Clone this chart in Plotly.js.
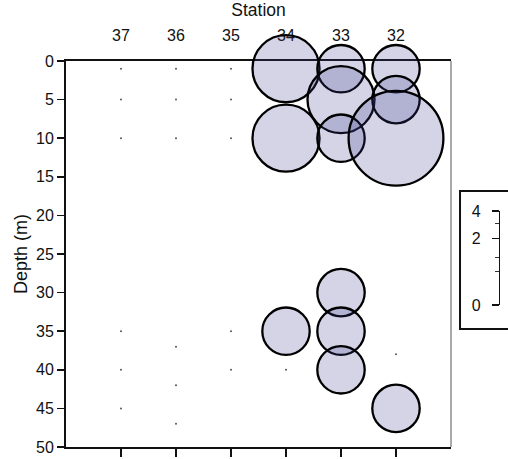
<!DOCTYPE html>
<html>
<head>
<meta charset="utf-8">
<script src="https://cdn.plot.ly/plotly-3.0.1.min.js"></script>
<style>html,body{margin:0;padding:0;background:#fff;}#chart{width:508px;height:459px;}</style>
</head>
<body>
<div id="chart"></div>
<script>
// ---- data ----
const stations = [37, 36, 35, 34, 33, 32];
const stationLabels = ['37', '36', '35', '34', '33', '32'];
const depthTicks = [0, 5, 10, 15, 20, 25, 30, 35, 40, 45, 50];

const bubbleStation = [34, 34, 34, 33, 33, 33, 33, 33, 33, 32, 32, 32, 32];
const bubbleDepth   = [1, 10, 35, 1, 5, 10, 30, 35, 40, 1, 5, 10, 45];
const bubbleValue   = [2, 2, 1, 1, 2, 1, 1, 1, 1, 1, 1, 4, 1];

const zeroStation = [37, 37, 37, 37, 37, 37, 36, 36, 36, 36, 36, 36, 35, 35, 35, 35, 35, 34, 32];
const zeroDepth   = [1, 5, 10, 35, 40, 45, 1, 5, 10, 37, 42, 47, 1, 5, 10, 35, 40, 40, 38];

const scaleMajor = [0, 2, 4];
const scaleMinor = [0.5, 1, 3];

// ---- chart ----
const FONT = 'Liberation Sans, Arial, Helvetica, sans-serif';
const r1 = 23.7;
const sizeref = 1 / (2 * r1 * r1);

const traces = [
  {
    x: zeroStation, y: zeroDepth, xaxis: 'x', yaxis: 'y',
    mode: 'markers', type: 'scatter', hoverinfo: 'skip', showlegend: false,
    marker: {size: 2, color: '#555', opacity: 1}
  },
  {
    x: bubbleStation, y: bubbleDepth, xaxis: 'x2', yaxis: 'y',
    mode: 'markers', type: 'scatter', showlegend: false, cliponaxis: false,
    marker: {
      size: bubbleValue, sizemode: 'area', sizeref: sizeref, opacity: 1,
      color: 'rgba(60,60,140,0.22)',
      line: {color: '#000', width: 2.3}
    }
  },
  {
    x: scaleMajor.map(() => 0), y: scaleMajor.map(Math.sqrt), xaxis: 'x3', yaxis: 'y3',
    mode: 'markers', type: 'scatter', hoverinfo: 'skip', showlegend: false,
    marker: {opacity: 0}
  }
];

const xRange = [38, 31];
const layout = {
  width: 508, height: 459,
  margin: {l: 66, r: 2, t: 61, b: 12, pad: 0},
  paper_bgcolor: '#fff', plot_bgcolor: 'rgba(0,0,0,0)',
  font: {family: FONT, size: 16, color: '#111'},
  showlegend: false,
  xaxis: {
    domain: [0, 0.875], range: xRange, anchor: 'y', side: 'bottom',
    tickmode: 'array', tickvals: stations, showticklabels: false,
    ticks: 'outside', ticklen: 8, tickwidth: 1.5, tickcolor: '#111',
    showline: true, linewidth: 2, linecolor: '#111',
    showgrid: false, zeroline: false, layer: 'below traces', fixedrange: true
  },
  xaxis2: {
    overlaying: 'x', range: xRange, anchor: 'y', side: 'top',
    tickmode: 'array', tickvals: stations, ticktext: stationLabels,
    ticks: '', ticklabelstandoff: 12,
    tickfont: {size: 16},
    showline: true, linewidth: 2, linecolor: '#111',
    showgrid: false, zeroline: false, layer: 'below traces',
    title: {text: 'Station', font: {size: 17.5}, standoff: 5}
  },
  yaxis: {
    domain: [0, 1], range: [50, 0], anchor: 'x',
    tickmode: 'array', tickvals: depthTicks,
    ticks: 'outside', ticklen: 7, tickwidth: 1.5, tickcolor: '#111',
    tickfont: {size: 16},
    showline: true, linewidth: 2, linecolor: '#111',
    showgrid: false, zeroline: false, layer: 'below traces',
    title: {text: 'Depth (m)', font: {size: 18}, standoff: 4}
  },
  xaxis3: {domain: [0.9, 0.99], anchor: 'y3', visible: false, range: [-1, 1]},
  yaxis3: {
    domain: [0.3679, 0.6114], range: [0, 2], anchor: 'free', position: 0.984, side: 'left',
    tickmode: 'array', tickvals: scaleMajor.map(Math.sqrt), ticktext: scaleMajor.map(String),
    ticks: 'outside', ticklen: 7, tickwidth: 1.3, tickcolor: '#111',
    tickfont: {size: 16}, ticklabelstandoff: 8,
    minor: {tickmode: 'array', tickvals: scaleMinor.map(Math.sqrt), ticks: 'outside', ticklen: 4, tickwidth: 1, tickcolor: '#333'},
    showline: true, linewidth: 1.3, linecolor: '#111',
    showgrid: false, zeroline: false
  },
  shapes: [
    {type: 'line', xref: 'x domain', yref: 'y domain', x0: 1, x1: 1, y0: 0, y1: 1,
     line: {color: '#555', width: 1}, layer: 'below'},
    {type: 'rect', xref: 'paper', yref: 'paper', x0: 0.8955, x1: 1.05, y0: 0.306, y1: 0.663,
     line: {color: '#111', width: 2}, fillcolor: 'rgba(0,0,0,0)'}
  ]
};

Plotly.newPlot('chart', traces, layout, {staticPlot: true, displayModeBar: false});
</script>
</body>
</html>
